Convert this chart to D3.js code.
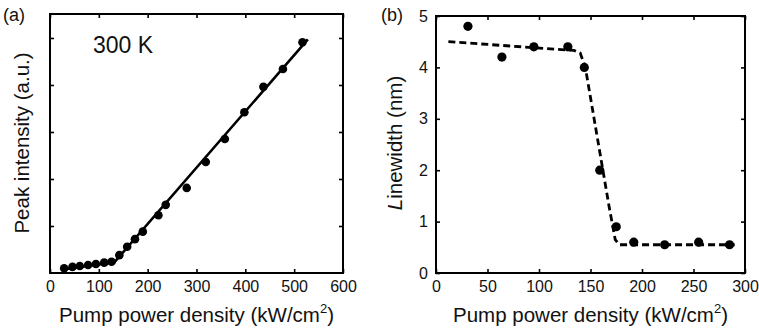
<!DOCTYPE html>
<html>
<head>
<meta charset="utf-8">
<script src="https://cdn.jsdelivr.net/npm/d3@7"></script>
<style>
  body { margin: 0; background: #fff; }
  svg { font-family: "Liberation Sans", Arial, sans-serif; }
  .tick line { stroke: #000; stroke-width: 1.6; }
  .tick text { font-size: 16px; fill: #111; }
  .domain { display: none; }
</style>
</head>
<body>
<div id="chart"></div>
<script>
// panel (a): peak intensity vs pump power density (300 K)
const pumpA = [29, 46, 61, 78, 94, 111, 126, 142, 158, 174, 190, 222, 237, 280, 319, 358, 398, 437, 477, 517];
const peakA = [0.10, 0.13, 0.15, 0.17, 0.19, 0.22, 0.24, 0.38, 0.56, 0.72, 0.88, 1.23, 1.45, 1.81, 2.36, 2.85, 3.42, 3.96, 4.34, 4.91];
const fitA = [[29, 0.08], [132, 0.23], [528, 4.97]];
const xTicksA = [0, 100, 200, 300, 400, 500, 600];
const yTicksA = [1, 2, 3, 4, 5];

// panel (b): linewidth vs pump power density
const pumpB = [31, 64, 95, 128, 144, 159, 175, 192, 222, 255, 285];
const widthB = [4.8, 4.2, 4.4, 4.4, 4.0, 2.0, 0.9, 0.6, 0.55, 0.6, 0.55];
const fitB = [[12, 4.5], [134, 4.33], [140, 4.28], [145, 4.0], [168, 1.3], [174, 0.65], [178, 0.55], [290, 0.55]];
const xTicksB = [0, 50, 100, 150, 200, 250, 300];
const yTicksB = [0, 1, 2, 3, 4, 5];

const svg = d3.select("#chart").append("svg")
    .attr("width", 759)
    .attr("height", 330);

function drawPanel(opt) {
    let g = svg.append("g");
    let x = d3.scaleLinear().domain(opt.xDomain).range([opt.left, opt.right]);
    let y = d3.scaleLinear().domain(opt.yDomain).range([opt.bottom, opt.top]);

    // ticks on all four sides, pointing inward
    g.append("g")
        .attr("transform", "translate(0," + opt.bottom + ")")
        .call(d3.axisBottom(x).tickValues(opt.xTicks).tickSize(-4).tickPadding(8).tickFormat(d3.format("d")));
    g.append("g")
        .attr("transform", "translate(0," + opt.top + ")")
        .call(d3.axisTop(x).tickValues(opt.xTicks).tickSize(-4).tickFormat(""));
    let yAx = d3.axisLeft(y).tickValues(opt.yTicks).tickSize(-4).tickPadding(8)
        .tickFormat(opt.yLabels ? d3.format("d") : "");
    g.append("g")
        .attr("transform", "translate(" + opt.left + ",0)")
        .call(yAx);
    g.append("g")
        .attr("transform", "translate(" + opt.right + ",0)")
        .call(d3.axisRight(y).tickValues(opt.yTicks).tickSize(-4).tickFormat(""));

    // frame
    g.append("rect")
        .attr("x", opt.left).attr("y", opt.top)
        .attr("width", opt.right - opt.left)
        .attr("height", opt.bottom - opt.top)
        .attr("fill", "none")
        .attr("stroke", "#000")
        .attr("stroke-width", 2);

    let line = d3.line().x(d => x(d[0])).y(d => y(d[1]));
    g.append("path")
        .datum(opt.fit)
        .attr("d", line)
        .attr("fill", "none")
        .attr("stroke", "#000")
        .attr("stroke-width", opt.dashed ? 2.8 : 2.6)
        .attr("stroke-dasharray", opt.dashed ? "7,4" : null);

    g.selectAll(".dot")
        .data(opt.xs)
        .enter().append("circle")
        .attr("class", "dot")
        .attr("cx", d => x(d))
        .attr("cy", (d, i) => y(opt.ys[i]))
        .attr("r", opt.r)
        .attr("fill", "#000");

    // x axis title with superscript
    let xt = g.append("text")
        .attr("x", (opt.left + opt.right) / 2)
        .attr("y", 322)
        .attr("text-anchor", "middle")
        .style("font-size", "20.5px")
        .attr("fill", "#111");
    xt.append("tspan").text("Pump power density (kW/cm");
    xt.append("tspan").attr("dy", -9).style("font-size", "13px").text("2");
    xt.append("tspan").attr("dy", 9).text(")");

    // panel letter
    g.append("text")
        .attr("x", opt.letterX)
        .attr("y", 21)
        .style("font-size", "18px")
        .attr("fill", "#111")
        .text(opt.letter);

    return { g: g, x: x, y: y };
}

let a = drawPanel({
    left: 50, right: 343, top: 14, bottom: 273,
    xDomain: [0, 600], yDomain: [0, 5.51],
    xTicks: xTicksA, yTicks: yTicksA, yLabels: false,
    xs: pumpA, ys: peakA, fit: fitA, dashed: false, r: 4.3,
    letter: "(a)", letterX: 3
});

let b = drawPanel({
    left: 436, right: 745, top: 16, bottom: 273,
    xDomain: [0, 300], yDomain: [0, 5],
    xTicks: xTicksB, yTicks: yTicksB, yLabels: true,
    xs: pumpB, ys: widthB, fit: fitB, dashed: true, r: 4.6,
    letter: "(b)", letterX: 381
});

// y axis titles
a.g.append("text")
    .attr("transform", "translate(29,143) rotate(-90)")
    .attr("text-anchor", "middle")
    .style("font-size", "20.5px")
    .attr("fill", "#111")
    .text("Peak intensity (a.u.)");

let yb = b.g.append("text")
    .attr("transform", "translate(402,143) rotate(-90)")
    .attr("text-anchor", "middle")
    .style("font-size", "20.5px")
    .attr("fill", "#111");
yb.append("tspan").style("font-style", "italic").text("L");
yb.append("tspan").text("inewidth (nm)");

// annotation
a.g.append("text")
    .attr("x", 93)
    .attr("y", 53)
    .style("font-size", "23px")
    .attr("fill", "#111")
    .text("300 K");
</script>
</body>
</html>
